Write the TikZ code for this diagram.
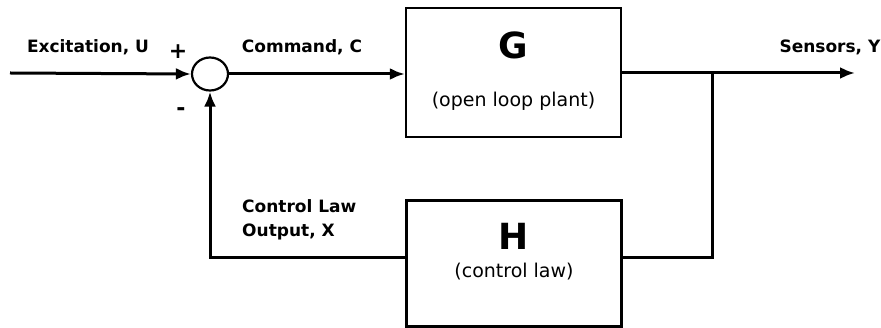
\documentclass[tikz,border=0pt]{standalone}
\usepackage{fontspec}
\setmainfont{DejaVu Sans}
\usetikzlibrary{arrows.meta,shapes.geometric}
\begin{document}
\begin{tikzpicture}[x=1pt,y=-1pt,
  wire/.style={line width=3pt},
  flow/.style={wire,-{Latex[length=15pt,width=12pt]}},
  blockbox/.style={draw,line width=2.4pt,minimum width=215pt,inner sep=0pt},
  siglabel/.style={font=\fontsize{17}{24}\selectfont\bfseries,inner sep=0pt},
  sumnode/.style={draw,line width=2.2pt,ellipse,minimum width=36pt,minimum height=33pt,inner sep=0pt}]
\useasboundingbox (0,0) rectangle (881,328);

% blocks
\node[blockbox,minimum height=129pt] (G) at (513.5,72.5) {};
\node[font=\fontsize{36}{40}\selectfont\bfseries] (Gt) at (513.5,45) {G};
\node[font=\fontsize{19}{22}\selectfont] (Gs) at (513.5,101) {(open loop plant)};

\node[blockbox,minimum height=126pt] (H) at (514,263.5) {};
\node[font=\fontsize{36}{40}\selectfont\bfseries] (Ht) at (514,236) {H};
\node[font=\fontsize{19}{22}\selectfont] (Hs) at (514,272) {(control law)};

% summing junction
\node[sumnode] (sum) at (210,74) {};

% connection points
\coordinate (in) at (10,73);
\coordinate (tap) at (712,73);
\coordinate (out) at (855,73);
\coordinate (fbR) at (712,258);
\coordinate (fbL) at (210,258);

% forward path
\draw[flow] (in) -- (sum.west);
\draw[flow] (sum.east) -- (G.west |- sum.east);
\draw[wire] (G.east |- tap) -- (tap);
\draw[flow] (tap) -- (out);

% feedback path
\draw[wire,line join=miter] (tap) -- (fbR) -- (fbR -| H.east);
\draw[flow,line join=miter] (fbL -| H.west) -- (fbL) -- (sum.south);

% signal labels
\node[siglabel] (lu) at (88,47) {Excitation, U};
\node[siglabel] (lc) at (302,47) {Command, C};
\node[siglabel] (ly) at (830,47) {Sensors, Y};
\node[siglabel,align=left,anchor=west] (lx) at (242,220) {Control Law\\Output, X};
\node[font=\fontsize{22}{24}\selectfont\bfseries,inner sep=0pt] (plus) at (178,52) {+};
\node[font=\fontsize{22}{24}\selectfont\bfseries,inner sep=0pt] (minus) at (181,112) {-};
\end{tikzpicture}
\end{document}
